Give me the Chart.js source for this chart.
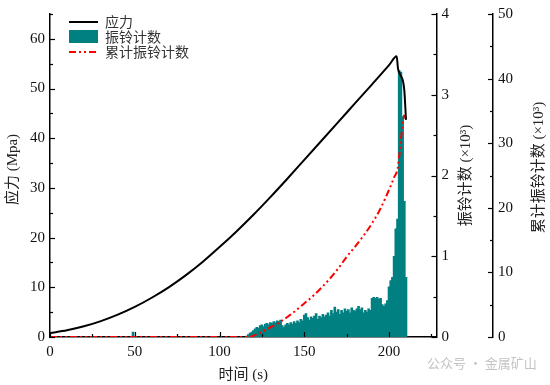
<!DOCTYPE html>
<html lang="zh">
<head>
<meta charset="UTF-8">
<title>应力与振铃计数</title>
<script src="https://cdn.jsdelivr.net/npm/chart.js@4.4.0/dist/chart.umd.min.js"></script>
<style>
  html, body { margin: 0; padding: 0; background: #fff; }
  #wrap { width: 550px; height: 385px; position: relative; }
</style>
</head>
<body>
<div id="wrap"><canvas id="chart"></canvas></div>
<script>
// stress curve (MPa)
const stressTime  = [0, 10, 20, 30, 40, 50, 60, 70, 80, 90, 100, 110, 120, 130, 140, 150, 160, 170, 180, 190, 200, 204.5, 205.3, 206.3, 209, 210];
const stressValue = [0.8, 1.35, 2.15, 3.2, 4.5, 6.05, 7.9, 10.0, 12.4, 15.1, 18.1, 21.25, 24.6, 28.15, 31.85, 35.65, 39.45, 43.25, 47.05, 50.85, 54.7, 56.5, 54.0, 53.0, 49.7, 43.7];

// ring-down counts per second (x10^3)
const countTime = [49,
  116, 117, 118, 119, 120, 121, 122, 123, 124, 125, 126, 127, 128, 129, 130, 131, 132, 133, 134, 135,
  136, 137, 138, 139, 140, 141, 142, 143, 144, 145, 146, 147, 148, 149, 150, 151, 152, 153, 154, 155,
  156, 157, 158, 159, 160, 161, 162, 163, 164, 165, 166, 167, 168, 169, 170, 171, 172, 173, 174, 175,
  176, 177, 178, 179, 180, 181, 182, 183, 184, 185, 186, 187, 188, 189, 190, 191, 192, 193, 194, 195,
  196, 197, 198, 199, 200, 201, 202, 203, 204, 205, 206, 207, 208, 209, 210];
const countValue = [0.06,
  0.01, 0.03, 0.05, 0.06, 0.08, 0.10, 0.12, 0.11, 0.14, 0.15, 0.13, 0.16, 0.17, 0.15, 0.18, 0.17, 0.19, 0.18, 0.20, 0.19,
  0.21, 0.14, 0.12, 0.15, 0.17, 0.15, 0.18, 0.16, 0.19, 0.17, 0.20, 0.18, 0.22, 0.20, 0.27, 0.29, 0.24, 0.21, 0.25, 0.23,
  0.26, 0.29, 0.22, 0.26, 0.24, 0.28, 0.25, 0.27, 0.30, 0.26, 0.33, 0.29, 0.37, 0.31, 0.34, 0.28, 0.33, 0.30, 0.35, 0.32,
  0.34, 0.30, 0.36, 0.33, 0.32, 0.35, 0.38, 0.34, 0.36, 0.30, 0.33, 0.31, 0.35, 0.33, 0.48, 0.49, 0.48, 0.49, 0.47, 0.48,
  0.40, 0.38, 0.41, 0.45, 0.62, 0.70, 0.74, 1.00, 1.34, 1.46, 3.30, 3.28, 2.73, 1.68, 0.74];

// cumulative ring-down counts (x10^3)
const cumTime  = [0, 117, 120, 125, 130, 135, 140, 145, 150, 155, 160, 165, 170, 175, 180, 185, 190, 195, 200, 203, 205, 206, 207, 208, 209];
const cumValue = [0, 0, 0.2, 0.8, 1.5, 2.2, 3.1, 4.1, 5.2, 6.3, 7.6, 9.0, 10.6, 12.4, 14.0, 15.7, 17.6, 19.9, 22.8, 24.7, 26.0, 28.0, 30.5, 32.8, 34.4];

const xTicks = [0, 50, 100, 150, 200];
const xMinorTicks = [25, 75, 125, 175, 225];
const stressTicks = [0, 10, 20, 30, 40, 50, 60];
const stressMinorTicks = [5, 15, 25, 35, 45, 55, 65];
const countTicks = [0, 1, 2, 3, 4];
const countMinorTicks = [0.5, 1.5, 2.5, 3.5];
const cumTicks = [0, 10, 20, 30, 40, 50];
const cumMinorTicks = [5, 15, 25, 35, 45];

const SERIF = "'Liberation Serif', 'Noto Sans CJK SC', serif";
const CJK = "'Noto Sans CJK SC', 'Liberation Serif', sans-serif";
const TEAL = '#008080';
const RED = '#ff0000';
const DASH_DOT = [7, 3, 2, 3, 2, 3];

function pts(xs, ys) {
  return xs.map((x, i) => ({ x: x, y: ys[i] }));
}

function fixWidth(w) {
  return function (scale) { scale.width = w; };
}

// inward ticks, axis titles and the legend are drawn here
const decor = {
  id: 'decor',
  afterDraw(chart) {
    const ctx = chart.ctx;
    const s = chart.scales;
    const area = chart.chartArea;
    ctx.save();
    ctx.strokeStyle = '#000';
    ctx.lineWidth = 1.2;

    function vTicks(scale, values, x, dir, len) {
      values.forEach(v => {
        const y = Math.round(scale.getPixelForValue(v)) + 0.5;
        ctx.beginPath();
        ctx.moveTo(x, y);
        ctx.lineTo(x + dir * len, y);
        ctx.stroke();
      });
    }
    vTicks(s.y, stressTicks, area.left, 1, 5);
    vTicks(s.y, stressMinorTicks, area.left, 1, 3);
    vTicks(s.yCount, countTicks, s.yCount.left, -1, 5);
    vTicks(s.yCount, countMinorTicks, s.yCount.left, -1, 3);
    vTicks(s.yCum, cumTicks, s.yCum.left, -1, 5);
    vTicks(s.yCum, cumMinorTicks, s.yCum.left, -1, 3);

    function hTicks(values, len) {
      values.forEach(v => {
        const x = Math.round(s.x.getPixelForValue(v)) + 0.5;
        ctx.beginPath();
        ctx.moveTo(x, area.bottom);
        ctx.lineTo(x, area.bottom - len);
        ctx.stroke();
      });
    }
    hTicks(xTicks, 5);
    hTicks(xMinorTicks, 3);

    // axis titles
    ctx.fillStyle = '#222';
    ctx.font = '15px ' + SERIF;
    ctx.textAlign = 'center';
    ctx.textBaseline = 'middle';
    const midY = (area.top + area.bottom) / 2;
    function vTitle(text, x, y) {
      ctx.save();
      ctx.translate(x, y);
      ctx.rotate(-Math.PI / 2);
      ctx.fillText(text, 0, 0);
      ctx.restore();
    }
    vTitle('应力 (Mpa)', 13, midY - 6);
    vTitle('振铃计数 (×10³)', 466, midY);
    vTitle('累计振铃计数 (×10³)', 539, midY - 8);
    ctx.fillText('时间 (s)', (area.left + area.right) / 2, 375);

    // legend
    const lx = 69, lw = 29, tx = 105;
    ctx.textAlign = 'left';
    ctx.font = '14px ' + CJK;
    ctx.fillStyle = '#333';
    ctx.strokeStyle = '#000';
    ctx.lineWidth = 2;
    ctx.beginPath();
    ctx.moveTo(lx, 22);
    ctx.lineTo(lx + lw, 22);
    ctx.stroke();
    ctx.fillText('应力', tx, 22);
    ctx.fillStyle = TEAL;
    ctx.fillRect(lx, 30, lw, 13);
    ctx.fillStyle = '#333';
    ctx.fillText('振铃计数', tx, 37);
    ctx.strokeStyle = RED;
    ctx.setLineDash(DASH_DOT);
    ctx.beginPath();
    ctx.moveTo(lx, 52);
    ctx.lineTo(lx + lw, 52);
    ctx.stroke();
    ctx.setLineDash([]);
    ctx.fillText('累计振铃计数', tx, 52);

    // watermark
    ctx.font = '13px ' + CJK;
    ctx.fillStyle = '#c4c4c4';
    ctx.fillText('公众号 · 金属矿山', 427, 363);
    ctx.restore();
  }
};

const ctx = document.getElementById('chart').getContext('2d');
new Chart(ctx, {
  type: 'bar',
  data: {
    datasets: [
      {
        type: 'line',
        label: '应力',
        data: pts(stressTime, stressValue),
        yAxisID: 'y',
        borderColor: '#000',
        borderWidth: 2,
        pointRadius: 0,
        cubicInterpolationMode: 'monotone',
        order: 1
      },
      {
        type: 'line',
        label: '累计振铃计数',
        data: pts(cumTime, cumValue),
        yAxisID: 'yCum',
        borderColor: RED,
        borderWidth: 2,
        borderDash: DASH_DOT,
        pointRadius: 0,
        cubicInterpolationMode: 'monotone',
        order: 2
      },
      {
        type: 'bar',
        label: '振铃计数',
        data: pts(countTime, countValue),
        yAxisID: 'yCount',
        backgroundColor: TEAL,
        borderWidth: 0,
        barThickness: 2,
        order: 3
      }
    ]
  },
  options: {
    responsive: true,
    maintainAspectRatio: false,
    animation: false,
    layout: { padding: { top: 12, left: 0, right: 0, bottom: 0 } },
    plugins: {
      legend: { display: false },
      tooltip: { enabled: false }
    },
    scales: {
      x: {
        type: 'linear',
        position: 'bottom',
        min: 0,
        max: 228,
        offset: false,
        grid: { display: false, drawTicks: false, offset: false },
        border: { display: true, color: '#000', width: 1.5 },
        afterBuildTicks: scale => { scale.ticks = xTicks.map(v => ({ value: v })); },
        afterFit: scale => { scale.height = 48; },
        ticks: { font: { family: SERIF, size: 15 }, color: '#111', padding: 6, maxRotation: 0 }
      },
      y: {
        position: 'left',
        min: 0,
        max: 65,
        grid: { display: false, drawTicks: false },
        border: { display: true, color: '#000', width: 1.5 },
        afterBuildTicks: scale => { scale.ticks = stressTicks.map(v => ({ value: v })); },
        afterFit: fixWidth(50),
        ticks: { font: { family: SERIF, size: 15 }, color: '#111', padding: 5 }
      },
      yCount: {
        position: 'right',
        min: 0,
        max: 4,
        grid: { display: false, drawTicks: false },
        border: { display: true, color: '#000', width: 1.5 },
        afterBuildTicks: scale => { scale.ticks = countTicks.map(v => ({ value: v })); },
        afterFit: fixWidth(56.5),
        ticks: { font: { family: SERIF, size: 15 }, color: '#111', padding: 5 }
      },
      yCum: {
        position: 'right',
        min: 0,
        max: 50,
        grid: { display: false, drawTicks: false },
        border: { display: true, color: '#000', width: 1.5 },
        afterBuildTicks: scale => { scale.ticks = cumTicks.map(v => ({ value: v })); },
        afterFit: fixWidth(57),
        ticks: { font: { family: SERIF, size: 15 }, color: '#111', padding: 5 }
      }
    }
  },
  plugins: [decor]
});
</script>
</body>
</html>
